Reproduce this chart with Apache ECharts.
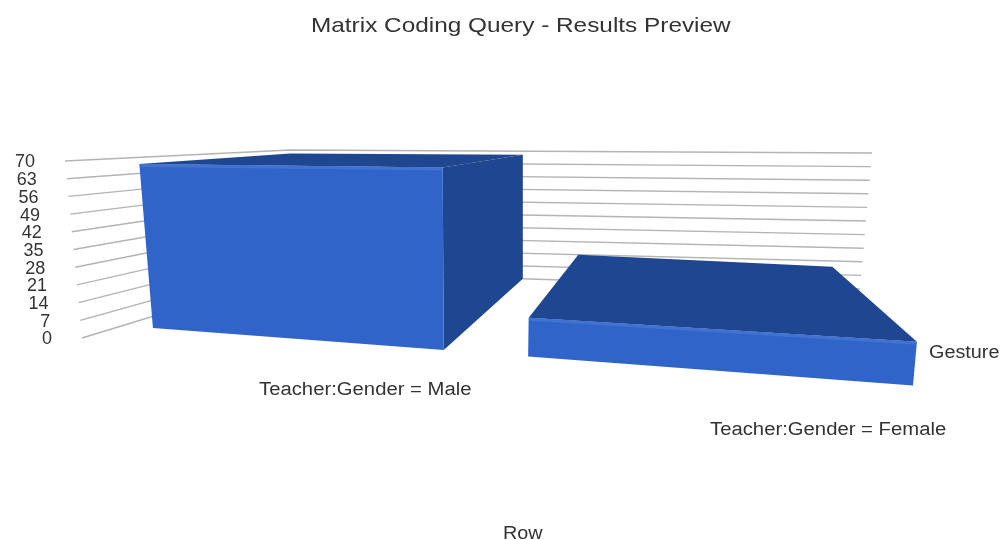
<!DOCTYPE html>
<html>
<head>
<meta charset="utf-8">
<style>
  html, body { margin: 0; padding: 0; background: #fff; }
  #chart { width: 1003px; height: 540px; }
</style>
<script src="https://cdn.jsdelivr.net/npm/echarts@6/dist/echarts.min.js"></script>
</head>
<body>
<div id="chart"></div>
<script>
const categories = ['Teacher:Gender = Male', 'Teacher:Gender = Female'];
const seriesName = 'Gesture';
const gestureValues = [68, 14];
const tickValues = [0, 7, 14, 21, 28, 35, 42, 49, 56, 63, 70];

// corners of the 3D box on screen: [x, y] for floor and top of the value range
const box = {
    backLeft: [[298, 272], [290, 150]],
    backRight: [[860, 289], [872, 153]],
    frontLeft: [[82, 338], [65, 161]],
    frontRight: [[941, 409], [963, 170]]
};
const frontDepth = 0.813;

// where each bar sits across the floor (0..1), at its front and back
const placements = [
    { front: [0.038, 0.4], back: [0, 0.4], backDepth: [0, 0] },
    { front: [0.505, 0.984], back: [0.498, 0.94], backDepth: [0, 0.06] }
];

function lerp(a, b, t) {
    return [a[0] + (b[0] - a[0]) * t, a[1] + (b[1] - a[1]) * t];
}

// x across, h up, z from back wall (0) to front (1)
function project(x, h, z) {
    const back = lerp(lerp(box.backLeft[0], box.backRight[0], x), lerp(box.backLeft[1], box.backRight[1], x), h);
    const front = lerp(lerp(box.frontLeft[0], box.frontRight[0], x), lerp(box.frontLeft[1], box.frontRight[1], x), h);
    return lerp(back, front, z);
}

// height of a value, through the y axis scale
function heightOf(api, value) {
    const floor = api.coord([0, 0])[1];
    const top = api.coord([0, 70])[1];
    return (floor - api.coord([0, value])[1]) / (floor - top);
}

function renderGridLine(params, api) {
    const value = api.value(1);
    const h = heightOf(api, value);
    const end = project(0, h, 1);
    return {
        type: 'group',
        children: [
            {
                type: 'polyline',
                shape: { points: [end, project(0, h, 0), project(1, h, 0)] },
                style: { fill: 'none', stroke: '#b4b4b0', lineWidth: 1.4 }
            },
            {
                // tick labels follow the slanted left wall
                type: 'text',
                x: end[0] - 30,
                y: end[1] + 1.5,
                style: {
                    text: String(value),
                    font: '18px ' + fontFamily,
                    fill: '#333',
                    align: 'right',
                    verticalAlign: 'middle'
                }
            }
        ]
    };
}

function renderBar(params, api) {
    const p = placements[params.dataIndex];
    const h = heightOf(api, api.value(1));
    const fl0 = project(p.front[0], 0, frontDepth);
    const fr0 = project(p.front[1], 0, frontDepth);
    const fl1 = project(p.front[0], h, frontDepth);
    const fr1 = project(p.front[1], h, frontDepth);
    const bl1 = project(p.back[0], h, p.backDepth[0]);
    const br1 = project(p.back[1], h, p.backDepth[1]);
    const br0 = project(p.back[1], 0, p.backDepth[1]);
    const children = [];
    if (br1[0] > fr1[0]) {
        children.push({
            type: 'polygon',
            shape: { points: [fr1, br1, br0, fr0] },
            style: { fill: '#1f4690' }
        });
    }
    children.push({
        type: 'polygon',
        shape: { points: [fl1, bl1, br1, fr1] },
        style: { fill: '#1f4690' }
    });
    children.push({
        type: 'polygon',
        shape: { points: [fl1, fr1, fr0, fl0] },
        style: { fill: '#3164c9' }
    });
    // lighter bevel along the top of the front face
    children.push({
        type: 'line',
        shape: { x1: fl1[0] + 1, y1: fl1[1] + 1.5, x2: fr1[0] - 1, y2: fr1[1] + 1.5 },
        style: { stroke: '#4272d0', lineWidth: 3 }
    });
    return { type: 'group', children: children };
}

function label(text, x, y, size, scaleX) {
    return {
        type: 'text',
        x: x,
        y: y,
        scaleX: scaleX,
        style: { text: text, font: size + 'px ' + fontFamily, fill: '#333', verticalAlign: 'middle' }
    };
}

const chart = echarts.init(document.getElementById('chart'));
const fontFamily = '"Liberation Sans", Arial, sans-serif';

chart.setOption({
    animation: false,
    backgroundColor: '#fff',
    grid: { left: 63, right: 40, top: 161, height: 177 },
    xAxis: { type: 'category', data: categories, show: false },
    yAxis: {
        type: 'value',
        min: 0,
        max: 70,
        interval: 7,
        axisLine: { show: false },
        axisTick: { show: false },
        splitLine: { show: false },
        axisLabel: { show: false }
    },
    series: [
        {
            type: 'custom',
            name: 'grid',
            clip: false,
            silent: true,
            data: tickValues.map(v => [0, v]),
            renderItem: renderGridLine
        },
        {
            type: 'custom',
            name: seriesName,
            clip: false,
            data: gestureValues.map((v, i) => [i, v]),
            renderItem: renderBar
        }
    ],
    graphic: [
        label('Matrix Coding Query - Results Preview', 311, 26, 21, 1.16),
        label(categories[0], 259, 390, 18, 1.127),
        label(categories[1], 710, 430, 18, 1.127),
        label(seriesName, 929, 353, 18, 1.1),
        label('Row', 503, 534, 18, 1.1)
    ]
});
</script>
</body>
</html>
